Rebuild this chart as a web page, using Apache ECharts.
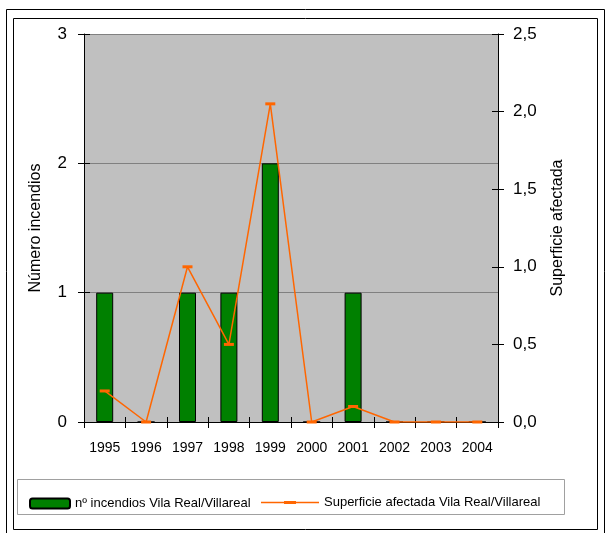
<!DOCTYPE html>
<html>
<head>
<meta charset="utf-8">
<script src="https://cdn.jsdelivr.net/npm/echarts@6/dist/echarts.min.js"></script>
<style>
  html, body { margin: 0; padding: 0; background: #ffffff; }
  #chart { width: 605px; height: 533px; }
</style>
</head>
<body>
<div id="chart"></div>
<script>
var years = ['1995', '1996', '1997', '1998', '1999', '2000', '2001', '2002', '2003', '2004'];
var numIncendios = [1, 0, 1, 1, 2, 0, 1, 0, 0, 0];
var superficie = [0.2, 0, 1.0, 0.5, 2.05, 0, 0.1, 0, 0, 0];
var leftTicks = [0, 1, 2, 3];
var rightTicks = ['0,0', '0,5', '1,0', '1,5', '2,0', '2,5'];

var barName = 'nº incendios Vila Real/Villareal';
var lineName = 'Superficie afectada Vila Real/Villareal';
var fontFamily = 'Arial, "Liberation Sans", sans-serif';
// legend icon for the line: thin line with a small dash in the middle (box 58 x 12)
var lineLegendIcon = 'path://M0,0Z M58,12Z M0,5.25H58V6.75H0Z M23,4.5H35V7.5H23Z';

var chart = echarts.init(document.getElementById('chart'));

var option = {
	backgroundColor: '#ffffff',
	animation: false,
	textStyle: { fontFamily: fontFamily },
	grid: {
		left: 84, right: 107, top: 34, bottom: 111,
		show: true,
		backgroundColor: '#C0C0C0',
		borderWidth: 0
	},
	legend: [
		{
			data: [barName],
			left: 24, top: 492,
			itemWidth: 40, itemHeight: 10,
			textStyle: { fontSize: 13, color: '#000000', fontFamily: fontFamily }
		},
		{
			data: [{ name: lineName, icon: lineLegendIcon }],
			left: 256, top: 491,
			itemWidth: 58, itemHeight: 12,
			textStyle: { fontSize: 13, color: '#000000', fontFamily: fontFamily }
		}
	],
	xAxis: [
		{
			type: 'category',
			data: years,
			axisLine: { lineStyle: { color: '#000000', width: 1 } },
			axisTick: { show: true, inside: false, length: 6, lineStyle: { color: '#000000' } },
			axisLabel: { color: '#000000', fontSize: 14, margin: 19, fontFamily: fontFamily },
			splitLine: { show: false }
		},
		{
			type: 'category',
			data: years,
			position: 'bottom',
			axisLine: { show: false },
			axisTick: { show: true, inside: true, length: 5, lineStyle: { color: '#000000' } },
			axisLabel: { show: false },
			splitLine: { show: false }
		}
	],
	yAxis: [
		{
			type: 'value',
			min: 0, max: 3, interval: 1,
			position: 'left',
			name: 'Número incendios',
			nameLocation: 'middle',
			nameRotate: 90,
			nameGap: 40,
			nameTextStyle: { fontSize: 16, color: '#000000', fontFamily: fontFamily },
			axisLine: { show: true, lineStyle: { color: '#000000' } },
			axisTick: { show: true, inside: false, length: 6, lineStyle: { color: '#000000' } },
			axisLabel: {
				color: '#000000', fontSize: 17, margin: 17, fontFamily: fontFamily,
				formatter: function (v) { return String(leftTicks[Math.round(v)]); }
			},
			splitLine: { show: true, lineStyle: { color: '#808080', width: 1 } }
		},
		{
			type: 'value',
			min: 0, max: 2.5, interval: 0.5,
			position: 'right',
			name: 'Superficie afectada',
			nameLocation: 'middle',
			nameRotate: 90,
			nameGap: 52,
			nameTextStyle: { fontSize: 16, color: '#000000', fontFamily: fontFamily },
			axisLine: { show: true, lineStyle: { color: '#000000' } },
			axisTick: { show: true, inside: false, length: 6, lineStyle: { color: '#000000' } },
			axisLabel: {
				color: '#000000', fontSize: 17, margin: 15, fontFamily: fontFamily,
				formatter: function (v) { return rightTicks[Math.round(v * 2)]; }
			},
			splitLine: { show: false }
		},
		{
			type: 'value',
			min: 0, max: 3, interval: 1,
			position: 'left',
			axisLine: { show: false },
			axisTick: { show: true, inside: true, length: 6, lineStyle: { color: '#000000' } },
			axisLabel: { show: false },
			splitLine: { show: false }
		},
		{
			type: 'value',
			min: 0, max: 2.5, interval: 0.5,
			position: 'right',
			axisLine: { show: false },
			axisTick: { show: true, inside: true, length: 6, lineStyle: { color: '#000000' } },
			axisLabel: { show: false },
			splitLine: { show: false }
		}
	],
	series: [
		{
			name: barName,
			type: 'bar',
			xAxisIndex: 0,
			yAxisIndex: 0,
			data: numIncendios,
			barWidth: 17,
			itemStyle: { color: '#008000', borderColor: '#000000', borderWidth: 1 }
		},
		{
			name: lineName,
			type: 'line',
			xAxisIndex: 0,
			yAxisIndex: 1,
			data: superficie,
			symbol: 'rect',
			symbolSize: [10, 3],
			lineStyle: { color: '#FF6600', width: 1.5 },
			itemStyle: { color: '#FF6600' },
			z: 5
		}
	],
	graphic: [
		{
			type: 'rect',
			shape: { x: 6.5, y: 9.5, width: 598, height: 540 },
			style: { fill: 'none', stroke: '#000000', lineWidth: 1 },
			silent: true
		},
		{
			type: 'rect',
			shape: { x: 13.5, y: 18.5, width: 584, height: 511 },
			style: { fill: 'none', stroke: '#000000', lineWidth: 1 },
			silent: true
		},
		{
			type: 'rect',
			shape: { x: 17.5, y: 479.5, width: 547, height: 35 },
			style: { fill: 'none', stroke: '#A0A0A0', lineWidth: 1 },
			silent: true
		}
	]
};

chart.setOption(option);
</script>
</body>
</html>
